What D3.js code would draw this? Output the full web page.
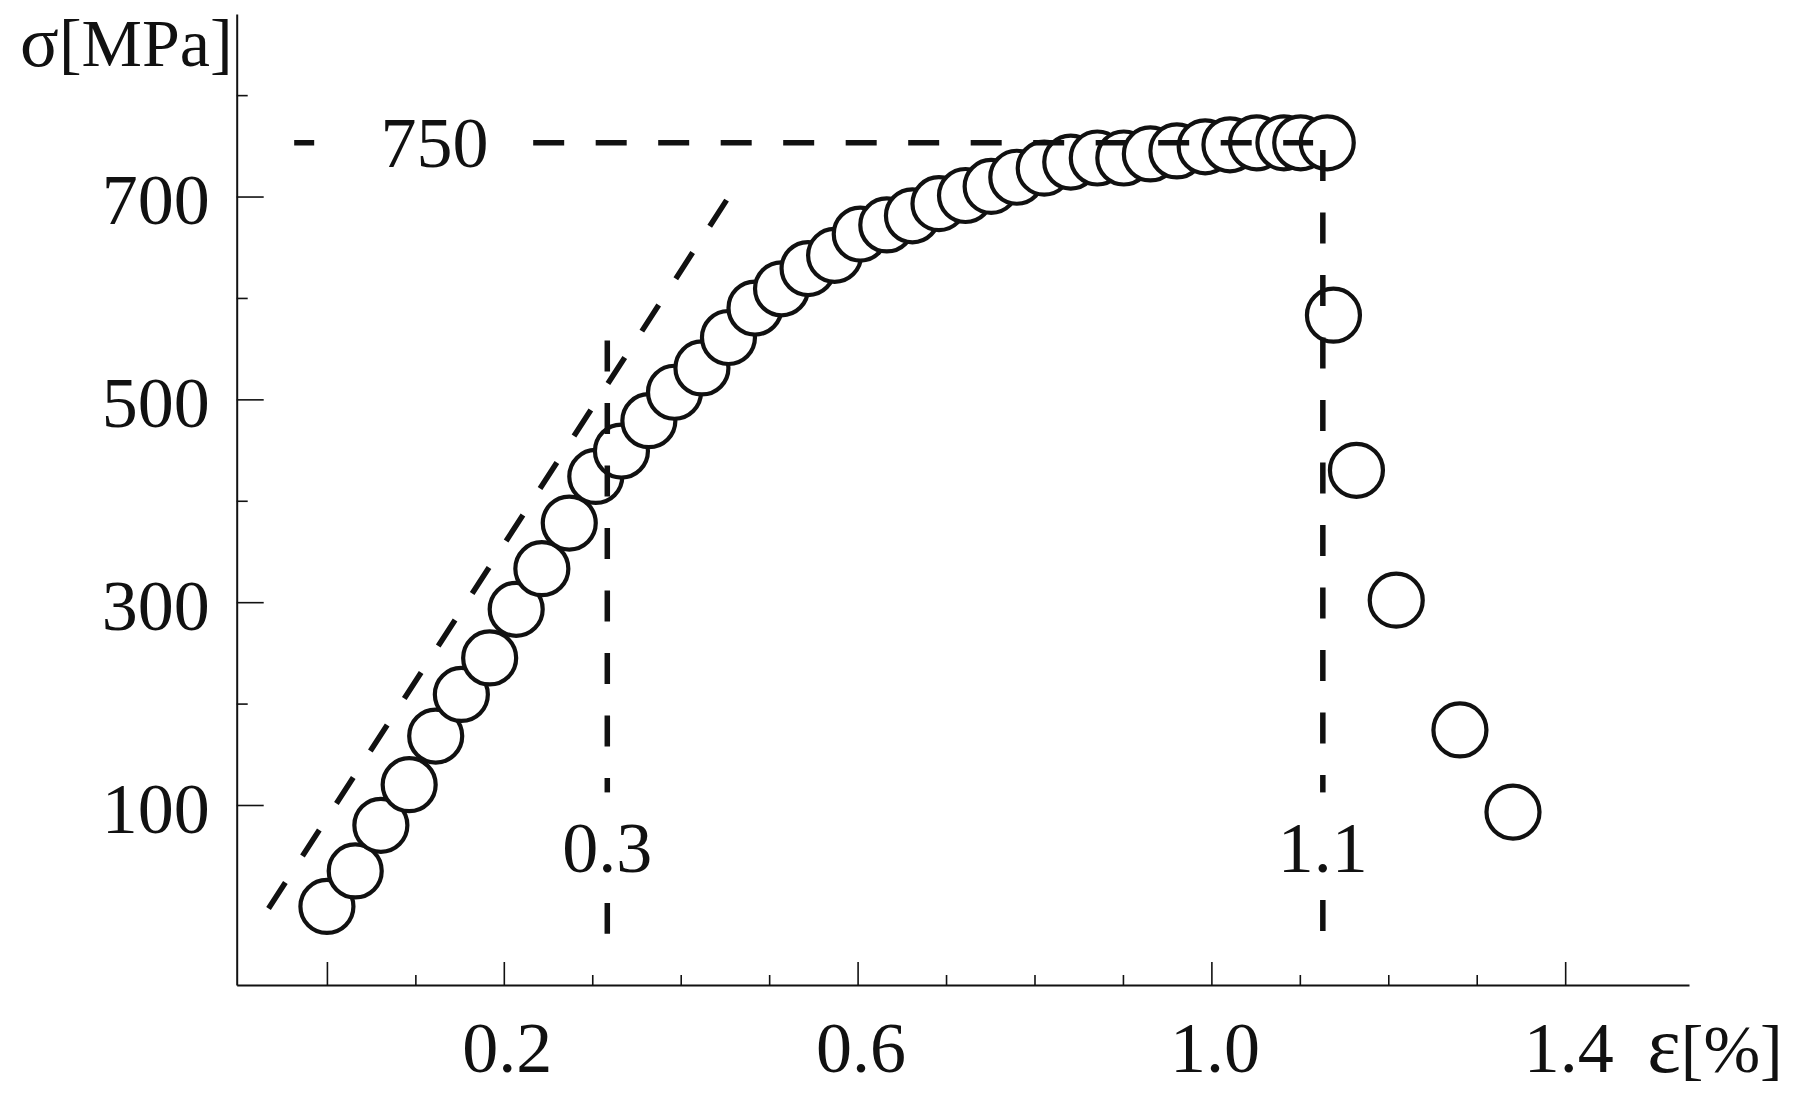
<!DOCTYPE html>
<html>
<head>
<meta charset="utf-8">
<title>stress - strain</title>
<script src="https://d3js.org/d3.v7.min.js"></script>
<style>
  html, body { margin: 0; padding: 0; background: #fff; }
  svg { display: block; }
  text { font-family: "Liberation Serif", "Times New Roman", serif; fill: #111; }
</style>
</head>
<body>
<div id="chart"></div>
<script>
// measured points: strain in %, stress in MPa
const strain = [0.000, 0.032, 0.061, 0.093, 0.123, 0.152, 0.184, 0.214, 0.243, 0.274,
                0.304, 0.333, 0.364, 0.393, 0.424, 0.454, 0.484, 0.514, 0.544, 0.574,
                0.603, 0.633, 0.662, 0.692, 0.722, 0.751, 0.780, 0.811, 0.841, 0.871,
                0.901, 0.931, 0.961, 0.993, 1.021, 1.051, 1.082, 1.101, 1.131,
                1.138, 1.164, 1.209, 1.281, 1.341];
const stress = [0, 35, 80, 120, 168, 209, 245, 293, 333, 378,
                424, 449, 479, 507, 531, 561, 590, 609, 629, 642,
                663, 672, 681, 693, 701, 710, 719, 728, 734, 738,
                738, 742, 745, 749, 751, 753, 753, 753, 753,
                583, 430, 302, 174, 93];

const xTickValues = [0.0, 0.1, 0.2, 0.3, 0.4, 0.5, 0.6, 0.7, 0.8, 0.9, 1.0, 1.1, 1.2, 1.3, 1.4];
const xTickLabels = ['', '', '0.2', '', '', '', '0.6', '', '', '', '1.0', '', '', '', '1.4'];
const xLongTicks = [0.0, 0.2, 0.6, 1.0, 1.4];
const yTickValues = [100, 200, 300, 400, 500, 600, 700, 800];
const yTickLabels = ['100', '', '300', '', '500', '', '700', ''];

// dashed guides
const yieldStress = 753;
const yieldLabel = '750';
const yieldSpan = [-0.037, 1.115];
const markStrain = [0.317, 1.126];
const markLabels = ['0.3', '1.1'];
const markTop = [558, 746];
const markBottom = -27;
const elasticStrain = [-0.066, 0.453];
const elasticStress = [-2, 698];


class StressStrainChart {
    constructor(el){
        this.width = 1799;
        this.height = 1101;
        this.$svg = d3.select(el).append('svg')
            .attr('width', this.width)
            .attr('height', this.height);
        this.x = d3.scaleLinear().domain([-0.102, 1.54]).range([236.7, 1689]);
        this.y = d3.scaleLinear().domain([-77.5, 880]).range([985, 14]);
        this.dash = '31 31.5';
        this.draw();
    }

    draw(){
        this.drawAxes();
        this.drawPoints();
        this.drawGuides();
        this.drawLabels();
    }

    styleAxis(g){
        g.attr('font-size', null).attr('font-family', null);
        g.select('.domain').attr('stroke', '#111').attr('stroke-width', 2);
        g.selectAll('.tick line').attr('stroke', '#111').attr('stroke-width', 1.6);
        g.selectAll('.tick text').style('font-size', '72px');
    }

    // axis title, greek letter a little larger as in the original
    title(x, y, anchor, greek, rest, greekSize){
        let t = this.$svg.append('text')
            .attr('x', x)
            .attr('y', y)
            .attr('text-anchor', anchor)
            .style('font-size', '68px');
        t.append('tspan').style('font-size', greekSize + 'px').text(greek);
        t.append('tspan').text(rest);
    }

    drawAxes(){
        let yAxis = d3.axisLeft(this.y)
            .tickValues(yTickValues)
            .tickFormat((d, i) => yTickLabels[i])
            .tickSize(-27)
            .tickSizeOuter(0)
            .tickPadding(27);
        let gy = this.$svg.append('g')
            .attr('transform', `translate(${this.x.range()[0]},0)`)
            .call(yAxis);
        this.styleAxis(gy);
        gy.selectAll('.tick line').attr('x2', (d, i) => yTickLabels[i] ? 27 : 11);
        gy.selectAll('.tick text').attr('dy', '0.38em');

        let xAxis = d3.axisBottom(this.x)
            .tickValues(xTickValues)
            .tickFormat((d, i) => xTickLabels[i])
            .tickSize(-23)
            .tickSizeOuter(0)
            .tickPadding(36);
        let gx = this.$svg.append('g')
            .attr('transform', `translate(0,${this.y.range()[0]})`)
            .call(xAxis);
        this.styleAxis(gx);
        gx.selectAll('.tick line').attr('y2', d => xLongTicks.some(v => Math.abs(v - d) < 1e-6) ? -23 : -10);
        gx.selectAll('.tick text').attr('dx', 3);

        this.title(this.x.range()[0] - 4, 66, 'end', 'σ', '[MPa]', 72);
        this.title(this.x(1.4) + 82, this.y.range()[0] + 87, 'start', 'ε', '[%]', 80);
    }

    drawPoints(){
        this.$svg.append('g').selectAll('circle')
            .data(strain.map((e, i) => ({e: e, s: stress[i]})))
            .enter()
                .append('circle')
                .attr('cx', d => this.x(d.e))
                .attr('cy', d => this.y(d.s))
                .attr('r', 26.5)
                .attr('fill', '#fff')
                .attr('stroke', '#111')
                .attr('stroke-width', 4.2);
    }

    drawGuides(){
        let g = this.$svg.append('g')
            .attr('fill', 'none')
            .attr('stroke', '#111')
            .attr('stroke-width', 5.5)
            .attr('stroke-dasharray', this.dash);

        let line = d3.line()
            .x(d => this.x(d[0]))
            .y(d => this.y(d[1]));
        g.append('path')
            .datum(elasticStrain.map((e, i) => [e, elasticStress[i]]))
            .attr('d', line);

        g.append('line')
            .attr('x1', this.x(yieldSpan[0]))
            .attr('x2', this.x(yieldSpan[1]))
            .attr('y1', this.y(yieldStress))
            .attr('y2', this.y(yieldStress))
            .attr('stroke-dashoffset', 11);

        g.selectAll('.mark')
            .data(markStrain)
            .enter()
                .append('line')
                .attr('class', 'mark')
                .attr('x1', d => this.x(d))
                .attr('x2', d => this.x(d))
                .attr('y1', (d, i) => this.y(markTop[i]))
                .attr('y2', this.y(markBottom));
    }

    drawLabels(){
        let labels = [{x: this.x(0.1215), y: this.y(yieldStress) + 24, text: yieldLabel, hw: 96}]
            .concat(markStrain.map((e, i) => ({
                x: this.x(e), y: this.y(0) - 34, text: markLabels[i], hw: 52
            })));

        let g = this.$svg.append('g');
        g.selectAll('rect')
            .data(labels)
            .enter()
                .append('rect')
                .attr('x', d => d.x - d.hw)
                .attr('y', d => d.y - 80)
                .attr('width', d => d.hw * 2)
                .attr('height', 104)
                .attr('fill', '#fff');
        g.selectAll('text')
            .data(labels)
            .enter()
                .append('text')
                .attr('x', d => d.x)
                .attr('y', d => d.y)
                .attr('text-anchor', 'middle')
                .style('font-size', '72px')
                .text(d => d.text);
    }
}

new StressStrainChart('#chart');
</script>
</body>
</html>
